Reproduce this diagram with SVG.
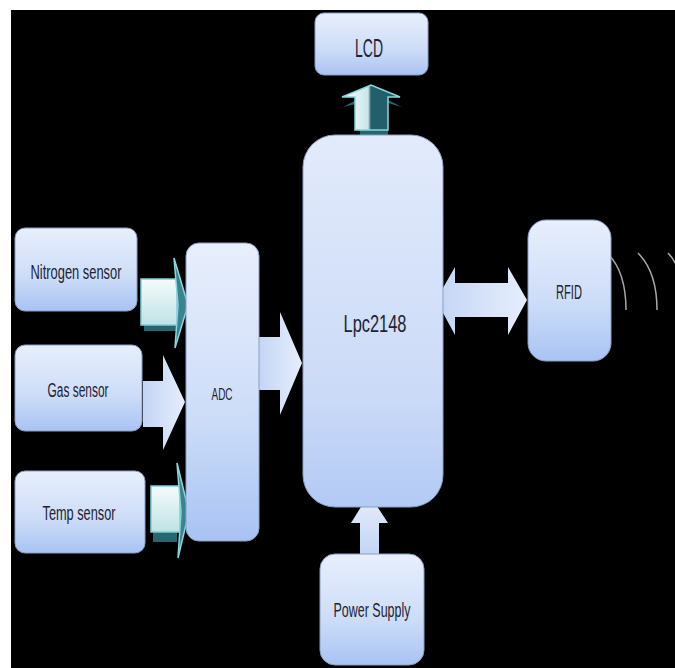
<svg xmlns="http://www.w3.org/2000/svg" width="675" height="668" viewBox="0 0 675 668">
<defs>
<linearGradient id="box" x1="0" y1="0" x2="0" y2="1">
<stop offset="0" stop-color="#e8effc"/><stop offset="0.6" stop-color="#ccdcf8"/><stop offset="1" stop-color="#a8c3f3"/>
</linearGradient>
<linearGradient id="big" x1="0" y1="0" x2="0" y2="1">
<stop offset="0" stop-color="#e2ebfb"/><stop offset="0.7" stop-color="#cbdaf7"/><stop offset="1" stop-color="#b3caf5"/>
</linearGradient>
<linearGradient id="arr" x1="0" y1="0" x2="1" y2="0">
<stop offset="0" stop-color="#c3d5f5"/><stop offset="1" stop-color="#e6eefc"/>
</linearGradient>
<linearGradient id="arrv" x1="0" y1="1" x2="0" y2="0">
<stop offset="0" stop-color="#c3d5f5"/><stop offset="1" stop-color="#e6eefc"/>
</linearGradient>
<linearGradient id="tealBody" x1="0" y1="0" x2="0" y2="1">
<stop offset="0" stop-color="#f4fbfb"/><stop offset="1" stop-color="#bfe3e6"/>
</linearGradient>
<linearGradient id="upBody" x1="0" y1="0" x2="1" y2="0">
<stop offset="0" stop-color="#ffffff"/><stop offset="0.45" stop-color="#c9e6ea"/><stop offset="0.5" stop-color="#235f6a"/><stop offset="1" stop-color="#235f6a"/>
</linearGradient>
<style>
.node rect{fill:url(#box);stroke:#8a9fc4;stroke-width:1}
.lbl{font-family:"Liberation Sans",Arial,sans-serif;fill:#1f2230;text-anchor:middle}
.flat{fill:url(#arr);stroke:none}
.shadow{fill:#27666f}
.tfront{fill:url(#tealBody);stroke:#7fcfd7;stroke-width:1.5}
.thead{fill:#3a8490;stroke:#8ad6dd;stroke-width:1.5}
.wave{fill:none;stroke:#a8a8a8;stroke-width:1.5}
</style>
</defs>
<rect x="0" y="0" width="675" height="668" fill="#ffffff"/>
<rect x="11" y="10" width="664" height="658" fill="#000000"/>

<g id="connectors">
<polygon class="shadow" points="360,139 388,139 388,103 402,107 372,92 343,107 360,103"/>
<polygon points="355,130 388,130 388,97 400,97 371,85 342,97 355,97" fill="url(#upBody)" stroke="#8ad6dd" stroke-width="1.5"/>
<rect class="shadow" x="144" y="300" width="32" height="31"/>
<rect class="tfront" x="141" y="279" width="36" height="46"/>
<polygon class="thead" points="174,258 188,305 175,348 178,305"/>
<polygon class="flat" points="143,381 163,381 163,355 185,402 163,450 163,427 143,427"/>
<rect class="shadow" x="153" y="510" width="24" height="32"/>
<rect class="tfront" x="151" y="486" width="29" height="46"/>
<polygon class="thead" points="177,463 189,512 178,558 181,512"/>
<polygon class="flat" points="259,337 280,337 280,312 302,363 280,415 280,390 259,390"/>
<polygon class="flat" points="436,300 455,267 455,283 508,283 508,267 527,300 508,335 508,317 455,317 455,335"/>
<polygon points="360,554 360,523 351,523 369,494 388,523 379,523 379,554" fill="url(#arrv)"/>
<path class="wave" d="M608,254 Q626,272 626,310"/>
<path class="wave" d="M638,253 Q657,272 657,310"/>
<path class="wave" d="M668,253 Q675,260 678,270"/>
</g>

<g id="lcd" class="node">
<rect x="315" y="13" width="113" height="62" rx="9"/>
<text class="lbl" x="369" y="57" font-size="25" textLength="28" lengthAdjust="spacingAndGlyphs">LCD</text>
</g>
<g id="lpc2148" class="node">
<rect x="303" y="135" width="140" height="372" rx="32" style="fill:url(#big)"/>
<text class="lbl" x="375" y="332" font-size="23" textLength="63" lengthAdjust="spacingAndGlyphs">Lpc2148</text>
</g>
<g id="rfid" class="node">
<rect x="528" y="220" width="83" height="141" rx="18"/>
<text class="lbl" x="569" y="299" font-size="20" textLength="26" lengthAdjust="spacingAndGlyphs">RFID</text>
</g>
<g id="nitrogen" class="node">
<rect x="15" y="228" width="122" height="83" rx="10"/>
<text class="lbl" x="76" y="279" font-size="20" textLength="91" lengthAdjust="spacingAndGlyphs">Nitrogen sensor</text>
</g>
<g id="gas" class="node">
<rect x="15" y="345" width="127" height="86" rx="10"/>
<text class="lbl" x="78" y="397" font-size="20" textLength="61" lengthAdjust="spacingAndGlyphs">Gas sensor</text>
</g>
<g id="temp" class="node">
<rect x="15" y="471" width="130" height="82" rx="10"/>
<text class="lbl" x="79" y="520" font-size="20" textLength="73" lengthAdjust="spacingAndGlyphs">Temp sensor</text>
</g>
<g id="adc" class="node">
<rect x="186" y="243" width="73" height="298" rx="13"/>
<text class="lbl" x="222" y="400" font-size="17" textLength="21" lengthAdjust="spacingAndGlyphs">ADC</text>
</g>
<g id="power" class="node">
<rect x="320" y="554" width="104" height="111" rx="15"/>
<text class="lbl" x="372" y="617" font-size="20" textLength="77" lengthAdjust="spacingAndGlyphs">Power Supply</text>
</g>
</svg>
